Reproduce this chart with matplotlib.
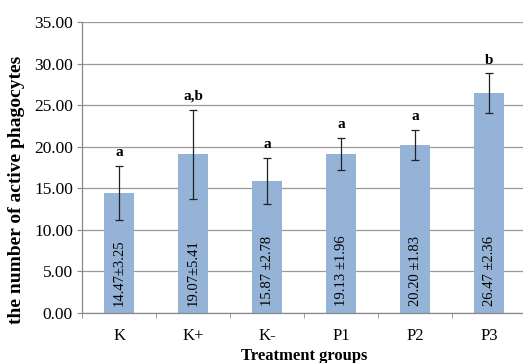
import matplotlib
matplotlib.use("Agg")
import matplotlib.pyplot as plt
import numpy as np

groups = ["K", "K+", "K-", "P1", "P2", "P3"]
means = [14.47, 19.07, 15.87, 19.13, 20.20, 26.47]
errors = [3.25, 5.41, 2.78, 1.96, 1.83, 2.36]
bar_labels = ["14.47±3.25", "19.07±5.41", "15.87 ±2.78", "19.13 ±1.96", "20.20 ±1.83", "26.47 ±2.36"]
letters = ["a", "a,b", "a", "a", "a", "b"]
yticks = [0, 5, 10, 15, 20, 25, 30, 35]

plt.rcParams['font.family'] = ['Liberation Serif', 'DejaVu Serif']

fig = plt.figure(figsize=(5.23, 3.63), dpi=100)
ax = fig.add_axes([0.157, 0.138, 0.849, 0.801])

x = np.arange(len(groups))
ax.bar(x, means, width=0.4, color='#95B3D7', zorder=2)
ax.errorbar(x, means, yerr=errors, fmt='none', ecolor='#222222', elinewidth=0.9,
            capsize=3, capthick=0.9, zorder=3)

for xi, m, e, lab, let in zip(x, means, errors, bar_labels, letters):
    ax.text(xi, 0.8, lab, rotation=90, ha='center', va='bottom', fontsize=10.5, zorder=4)
    ax.text(xi, m + e + 0.8, let, ha='center', va='bottom', fontsize=11, fontweight='bold')

ax.set_xlim(-0.5, len(groups) - 0.5)
ax.set_ylim(0, 35)
ax.set_yticks(yticks)
ax.set_yticklabels([f"{v:.2f}" for v in yticks], fontsize=12.5)
ax.yaxis.grid(True, color='#9a9a9a', linewidth=0.9, zorder=0)
ax.set_axisbelow(True)

ax.set_xticks(x)
ax.set_xticklabels(groups, fontsize=12)
ax.tick_params(axis='x', which='major', length=0, pad=11)
ax.set_xticks(np.arange(-0.5, len(groups) + 0.5, 1), minor=True)
ax.tick_params(axis='x', which='minor', length=3.6, color='#888888')
ax.tick_params(axis='y', length=3.6, pad=3, color='#888888')

for s in ['top', 'right']:
    ax.spines[s].set_visible(False)
for s in ['left', 'bottom']:
    ax.spines[s].set_color('#888888')
    ax.spines[s].set_linewidth(0.9)

ax.set_ylabel("the number of active phagocytes", fontsize=14, fontweight='bold')
ax.yaxis.set_label_coords(-0.128, 0.423)
ax.set_xlabel("Treatment groups", fontsize=12, fontweight='bold')
ax.xaxis.set_label_coords(0.5, -0.12)

fig.savefig("out.png", dpi=100)
